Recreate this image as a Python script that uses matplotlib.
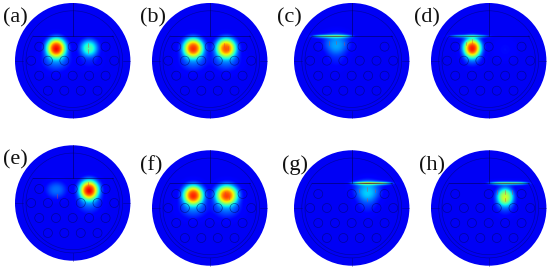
import numpy as np
import matplotlib
matplotlib.use("Agg")
import matplotlib.pyplot as plt
from matplotlib.patches import Circle

labels = ["(a)", "(b)", "(c)", "(d)", "(e)", "(f)", "(g)", "(h)"]
centers_px = [(72.7, 60.7), (209.7, 60.7), (351.7, 60.7), (488.7, 60.7),
              (72.7, 203), (209.7, 208), (351.7, 208), (488.7, 208)]
label_px = [(3, 18), (140, 18), (277, 18), (414, 18),
            (3, 160), (140, 166), (282, 165), (419, 166)]

# field blobs per panel: x, y, sigma x, sigma y, amplitude (disk radius = 1)
blobs_a = [(-0.29, 0.23, 0.115, 0.115, 0.76), (-0.29, 0.02, 0.16, 0.13, 0.13),
           (0.28, 0.23, 0.105, 0.10, 0.32), (0.28, 0.04, 0.13, 0.12, 0.05)]
blobs_b = [(-0.29, 0.23, 0.12, 0.115, 0.72), (-0.29, 0.02, 0.16, 0.13, 0.12),
           (0.28, 0.23, 0.12, 0.115, 0.68), (0.28, 0.02, 0.16, 0.13, 0.12)]
blobs_c = [(-0.27, 0.30, 0.15, 0.12, 0.17), (-0.27, 0.08, 0.12, 0.13, 0.05)]
blobs_d = [(-0.29, 0.23, 0.105, 0.11, 0.76), (-0.29, 0.05, 0.11, 0.10, 0.10),
           (0.28, 0.20, 0.12, 0.12, 0.03)]
blobs_e = [(0.28, 0.23, 0.115, 0.115, 0.77), (0.28, 0.02, 0.14, 0.13, 0.12),
           (-0.29, 0.23, 0.12, 0.10, 0.13)]
blobs_f = [(-0.29, 0.23, 0.12, 0.115, 0.73), (-0.29, 0.02, 0.16, 0.13, 0.13),
           (0.29, 0.23, 0.13, 0.115, 0.70), (0.29, 0.02, 0.16, 0.13, 0.13)]
blobs_g = [(0.27, 0.30, 0.15, 0.12, 0.20), (0.27, 0.10, 0.12, 0.13, 0.07)]
blobs_h = [(0.28, 0.20, 0.10, 0.105, 0.46), (0.28, 0.04, 0.11, 0.11, 0.09)]
panel_blobs = [blobs_a, blobs_b, blobs_c, blobs_d, blobs_e, blobs_f, blobs_g, blobs_h]

# bright sheet along the interface: x start, x end, amplitude (None = no sheet)
panel_sheets = [None, None, (-0.66, -0.02, 0.55), (-0.66, -0.02, 0.38),
                None, None, (0.02, 0.66, 0.72), (0.02, 0.66, 0.60)]

# holes of each hexagonal row
row1_x = [-0.58, 0.0, 0.57]
row2_x = [-0.72, -0.43, -0.145, 0.14, 0.43, 0.72]
row3_x = [-0.58, -0.29, 0.0, 0.285, 0.57]
row4_x = [-0.43, -0.145, 0.14, 0.43]
row_y = [0.243, 0.0, -0.26, -0.52]

# small red field markers: x, y
panel_marks = [[(0.27, 0.27), (0.27, 0.17)], [(0.25, 0.27), (0.32, 0.22)],
               [(-0.40, 0.31), (-0.27, 0.32), (-0.13, 0.30)], [(-0.29, 0.34), (-0.40, 0.30)],
               [(0.27, 0.33), (-0.28, 0.12)], [(0.27, 0.24), (0.33, 0.18)],
               [(0.13, 0.30), (0.27, 0.33), (0.41, 0.30), (0.27, 0.15)],
               [(0.28, 0.28), (0.28, 0.15), (0.15, 0.28), (0.41, 0.28)]]

R = 57.7
BASE = 0.103
LINE = "#00066a"

fig = plt.figure(figsize=(5.5, 2.71), dpi=100)
ax = fig.add_axes([0, 0, 1, 1])
ax.set_xlim(0, 550)
ax.set_ylim(271, 0)
ax.axis("off")

u = np.linspace(-1.02, 1.02, 320)
X, Y = np.meshgrid(u, u)

for i, (cx, cy) in enumerate(centers_px):
    F = np.full_like(X, BASE)
    for (x0, y0, sx, sy, a) in panel_blobs[i]:
        q = ((X - x0) / sx) ** 2 / 2 + ((Y - y0) / sy) ** 2 / 2
        F += a * np.exp(-q ** 1.25)
    if panel_sheets[i] is not None:
        x1, x2, a = panel_sheets[i]
        mid, half = (x1 + x2) / 2, (x2 - x1) / 2
        env = np.exp(-(np.abs(X - mid) / half) ** 4)
        F += a * env * np.exp(-np.abs(Y - 0.43) / 0.016)
    im = ax.imshow(F, extent=(cx - 1.02 * R, cx + 1.02 * R, cy + 1.02 * R, cy - 1.02 * R),
                   origin="lower", cmap="jet", vmin=0, vmax=1, interpolation="bilinear",
                   aspect="auto", zorder=1)
    clip = Circle((cx, cy), R, transform=ax.transData)
    im.set_clip_path(clip)

    def P(x, y):
        return cx + np.asarray(x) * R, cy - np.asarray(y) * R

    kw = dict(color=LINE, lw=0.45, alpha=0.6, zorder=3)
    ax.add_patch(Circle((cx, cy), 0.865 * R, fill=False, ec=LINE, lw=0.45, alpha=0.6, zorder=3))
    th2 = np.linspace(-np.pi - np.arcsin(0.43 / 0.81), np.arcsin(0.43 / 0.81), 160)
    ax.plot(*P(0.81 * np.cos(th2), 0.81 * np.sin(th2)), **kw)
    ax.plot(*P([-0.69, 0.69], [0.43, 0.43]), color="#000050", lw=0.55, alpha=0.7, zorder=3)
    ax.plot(*P([0, 0], [1.0, 0.43]), color="#000050", lw=0.55, alpha=0.7, zorder=3)
    ax.plot(*P([0, 0], [-0.87, -1.0]), **kw)
    ax.plot(*P([-1.0, -0.87], [0, 0]), **kw)
    ax.plot(*P([0.87, 1.0], [0, 0]), **kw)

    rows = [row1_x, row2_x, row3_x, row4_x]
    for xs, y in zip(rows, row_y):
        for x in xs:
            hx, hy = P(x, y)
            ax.add_patch(Circle((hx, hy), 0.078 * R, fill=False, ec=LINE, lw=0.5,
                                alpha=0.65, zorder=3))
    for (mx, my) in panel_marks[i]:
        ax.plot(*P([mx, mx], [my - 0.03, my + 0.03]), color="#e0403c", lw=0.4,
                alpha=0.7, zorder=4)

    ax.text(label_px[i][0], label_px[i][1], labels[i], family="Liberation Serif",
            fontsize=16, color="#111111", ha="left", va="center", zorder=5)

fig.savefig("out.png", dpi=100)
